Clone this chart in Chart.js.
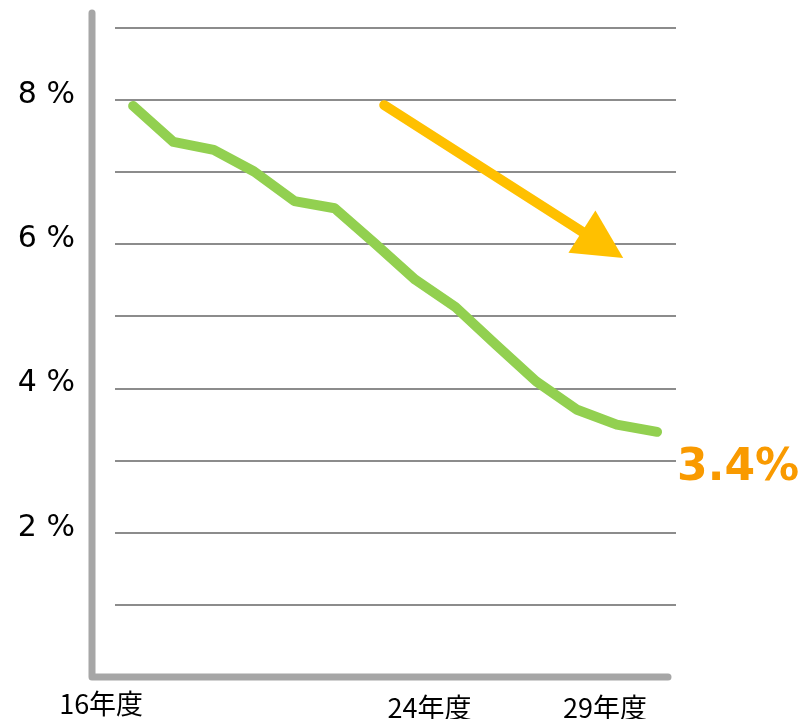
<!DOCTYPE html>
<html>
<head>
<meta charset="utf-8">
<script src="https://cdn.jsdelivr.net/npm/chart.js@4/dist/chart.umd.min.js"></script>
<style>
  body { margin: 0; background: #fff; }
  canvas { display: block; }
</style>
</head>
<body>
<canvas id="rate" width="803" height="719"></canvas>
<script>
const years = [16, 17, 18, 19, 20, 21, 22, 23, 24, 25, 26, 27, 28, 29];
const rates = [7.92, 7.42, 7.31, 7.01, 6.6, 6.5, 6.01, 5.51, 5.13, 4.61, 4.1, 3.71, 3.5, 3.4];
const yTickLabels = [2, 4, 6, 8];
const xLabelYears = [16, 24, 29];
const trendFrom = [22.23, 7.93];
const trendTo = [28.16, 5.81];

// gray L-shaped axes, set a little apart from the gridlines
const axesPlugin = {
  id: "axes",
  beforeDatasetsDraw(chart) {
    const { ctx, chartArea } = chart;
    ctx.save();
    ctx.strokeStyle = "#a6a6a6";
    ctx.lineWidth = 7;
    ctx.lineCap = "round";
    ctx.lineJoin = "round";
    ctx.beginPath();
    ctx.moveTo(chartArea.left - 23, chartArea.top - 15);
    ctx.lineTo(chartArea.left - 23, chartArea.bottom);
    ctx.lineTo(chartArea.right - 8, chartArea.bottom);
    ctx.stroke();
    ctx.restore();
  },
};

// trend arrow, year labels and the final value callout
const extrasPlugin = {
  id: "extras",
  afterDraw(chart) {
    const { ctx, chartArea } = chart;
    const x = chart.scales.x;
    const y = chart.scales.y;

    const sx = x.getPixelForValue(trendFrom[0]);
    const sy = y.getPixelForValue(trendFrom[1]);
    const tx = x.getPixelForValue(trendTo[0]);
    const ty = y.getPixelForValue(trendTo[1]);
    const len = Math.hypot(tx - sx, ty - sy);
    const ux = (tx - sx) / len;
    const uy = (ty - sy) / len;
    const headLen = 49;
    const headHalf = 25;
    const bx = tx - ux * headLen;
    const by = ty - uy * headLen;

    ctx.save();
    ctx.strokeStyle = "#ffc000";
    ctx.fillStyle = "#ffc000";
    ctx.lineWidth = 10;
    ctx.lineCap = "round";
    ctx.beginPath();
    ctx.moveTo(sx, sy);
    ctx.lineTo(bx + ux * 5, by + uy * 5);
    ctx.stroke();
    ctx.beginPath();
    ctx.moveTo(tx, ty);
    ctx.lineTo(bx - uy * headHalf, by + ux * headHalf);
    ctx.lineTo(bx + uy * headHalf, by - ux * headHalf);
    ctx.closePath();
    ctx.fill();
    ctx.restore();

    // year labels under the axis
    const shifts = [-32, -26, -52];
    const drops = [27, 31, 31];
    ctx.save();
    ctx.fillStyle = "#000";
    ctx.font = '27px "Noto Sans CJK JP"';
    ctx.textAlign = "center";
    ctx.textBaseline = "middle";
    xLabelYears.forEach((yr, i) => {
      ctx.fillText(yr + "年度", x.getPixelForValue(yr) + shifts[i], chartArea.bottom + drops[i]);
    });
    ctx.restore();

    // last value callout
    const last = rates[rates.length - 1];
    const lx = x.getPixelForValue(years[years.length - 1]);
    const ly = y.getPixelForValue(last);
    ctx.save();
    ctx.fillStyle = "#f99a00";
    ctx.font = 'bold 44px "DejaVu Sans"';
    ctx.textAlign = "left";
    ctx.textBaseline = "alphabetic";
    ctx.fillText(last.toFixed(1) + "%", lx + 20, ly + 48);
    ctx.restore();
  },
};

new Chart(document.getElementById("rate"), {
  type: "line",
  data: {
    datasets: [
      {
        data: years.map((yr, i) => ({ x: yr, y: rates[i] })),
        borderColor: "#92d050",
        borderWidth: 10,
        borderCapStyle: "round",
        borderJoinStyle: "round",
        pointRadius: 0,
        tension: 0,
        fill: false,
      },
    ],
  },
  options: {
    responsive: false,
    animation: false,
    layout: {
      padding: { left: 18, right: 127, top: 28, bottom: 42 },
    },
    plugins: {
      legend: { display: false },
      tooltip: { enabled: false },
    },
    scales: {
      x: {
        type: "linear",
        min: 15.55,
        max: 29.47,
        display: false,
      },
      y: {
        min: 0,
        max: 9,
        afterFit: (scale) => {
          scale.width = 97;
          scale.paddingTop = 0;
          scale.paddingBottom = 0;
        },
        border: { display: false },
        grid: {
          color: (c) => (c.tick && c.tick.value === 0 ? "rgba(0,0,0,0)" : "#8c8c8c"),
          lineWidth: 2,
          drawTicks: false,
        },
        ticks: {
          stepSize: 1,
          padding: 40,
          labelOffset: -5,
          color: "#000",
          font: { family: "DejaVu Sans", size: 30 },
          callback: (v) => (yTickLabels.includes(v) ? v + " %" : ""),
        },
      },
    },
  },
  plugins: [axesPlugin, extrasPlugin],
});
</script>
</body>
</html>
